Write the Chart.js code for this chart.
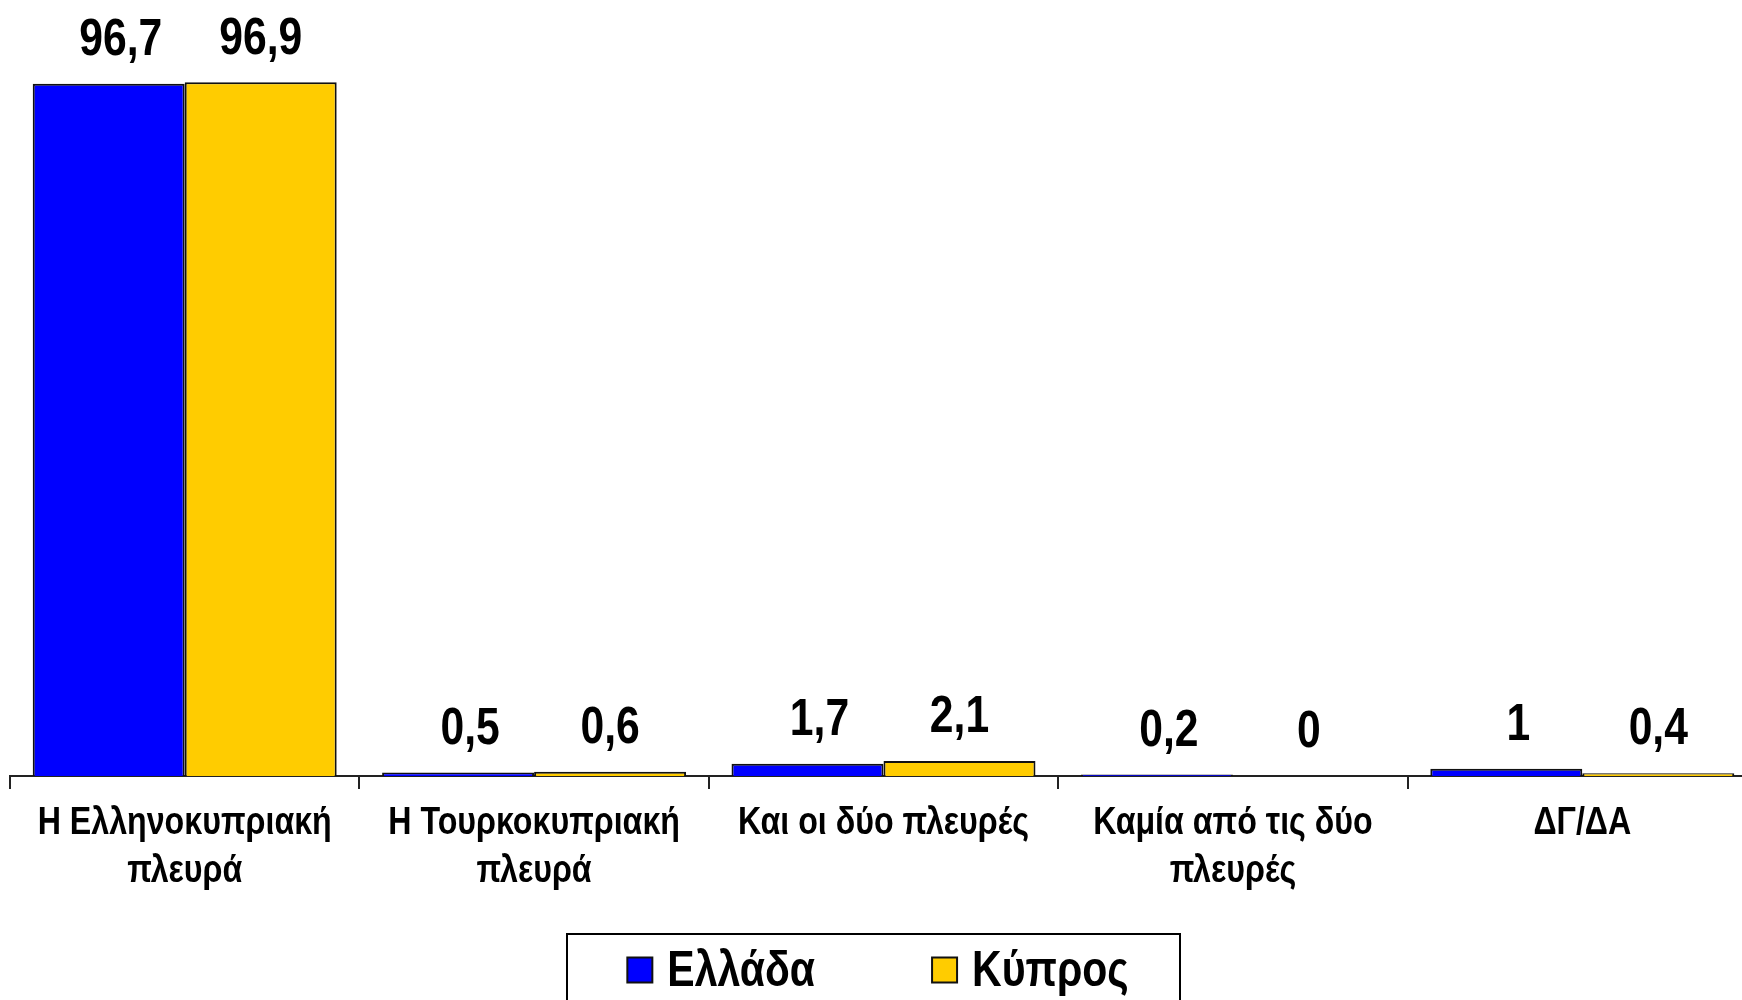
<!DOCTYPE html>
<html>
<head>
<meta charset="utf-8">
<script src="https://cdn.jsdelivr.net/npm/chart.js@4.4.0/dist/chart.umd.min.js"></script>
<style>
html,body{margin:0;padding:0;background:#fff;overflow:hidden;width:1742px;height:1000px;}
canvas{display:block;}
</style>
</head>
<body>
<canvas id="c" width="1757" height="1000"></canvas>
<script>
const categories = [
  ["Η Ελληνοκυπριακή", "πλευρά"],
  ["Η Τουρκοκυπριακή", "πλευρά"],
  ["Και οι δύο πλευρές"],
  ["Καμία από τις δύο", "πλευρές"],
  ["ΔΓ/ΔΑ"]
];
const seriesNames = ["Ελλάδα", "Κύπρος"];
const greeceValues = [96.7, 0.5, 1.7, 0.2, 1];
const cyprusValues = [96.9, 0.6, 2.1, 0, 0.4];
const seriesColors = ["#0000FF", "#FFCC00"];

const FONT = "'Liberation Sans', Arial, sans-serif";
const NARROW = 0.82;

function drawNarrow(ctx, text, x, y, f) {
  ctx.save();
  ctx.translate(x, y);
  ctx.scale(f || NARROW, 1);
  ctx.fillText(text, 0, 0);
  ctx.restore();
}
function narrowWidth(ctx, text) {
  return ctx.measureText(text).width * NARROW;
}

const valueLabels = {
  id: 'valueLabels',
  afterDatasetsDraw(chart) {
    const ctx = chart.ctx;
    ctx.save();
    ctx.fillStyle = '#000';
    ctx.font = "bold 52px " + FONT;
    ctx.textAlign = 'center';
    ctx.textBaseline = 'middle';
    chart.data.datasets.forEach((ds, di) => {
      const meta = chart.getDatasetMeta(di);
      meta.data.forEach((bar, i) => {
        const txt = String(ds.data[i]).replace('.', ',');
        const dx = di === 0 ? 12 : 0;
        drawNarrow(ctx, txt, bar.x + dx, bar.y - 43);
      });
    });
    ctx.restore();
  }
};

const xLabels = {
  id: 'xLabels',
  afterDraw(chart) {
    const ctx = chart.ctx;
    const xs = chart.scales.x;
    ctx.save();
    ctx.fillStyle = '#000';
    ctx.font = "bold 39px " + FONT;
    ctx.textAlign = 'center';
    ctx.textBaseline = 'alphabetic';
    chart.data.labels.forEach((lines, i) => {
      const x = xs.getPixelForTick(i);
      lines.forEach((ln, k) => {
        drawNarrow(ctx, ln, x, xs.top + 58 + k * 48, 0.825);
      });
    });
    ctx.restore();
  }
};

const legendDraw = {
  id: 'legendDraw',
  afterDraw(chart) {
    const ctx = chart.ctx;
    const cx = (chart.chartArea.left + 1742) / 2 - 3;
    const cy = 970;
    ctx.save();
    ctx.font = "bold 50px " + FONT;
    ctx.textBaseline = 'middle';
    ctx.textAlign = 'left';
    const sw = 25, gapT = 15, gapItems = 117;
    const widths = chart.data.datasets.map(ds => sw + gapT + narrowWidth(ctx, ds.label));
    const total = widths.reduce((a, b) => a + b, 0) + gapItems * (widths.length - 1);
    ctx.strokeStyle = '#000';
    ctx.lineWidth = 2;
    ctx.strokeRect(cx - 306, 934, 613, 100);
    let x = cx - total / 2 + 5;
    chart.data.datasets.forEach((ds, i) => {
      ctx.fillStyle = ds.backgroundColor;
      ctx.fillRect(x, cy - sw / 2, sw, sw);
      ctx.strokeStyle = '#111';
      ctx.lineWidth = 2;
      ctx.strokeRect(x, cy - sw / 2, sw, sw);
      ctx.fillStyle = '#000';
      drawNarrow(ctx, ds.label, x + sw + gapT, cy + 2);
      x += widths[i] + gapItems;
    });
    ctx.restore();
  }
};

new Chart(document.getElementById('c'), {
  type: 'bar',
  data: {
    labels: categories,
    datasets: [
      { label: seriesNames[0], data: greeceValues, backgroundColor: seriesColors[0], borderColor: '#111', borderWidth: 2, borderSkipped: 'bottom' },
      { label: seriesNames[1], data: cyprusValues, backgroundColor: seriesColors[1], borderColor: '#111', borderWidth: 2, borderSkipped: 'bottom' }
    ]
  },
  options: {
    responsive: false,
    animation: false,
    devicePixelRatio: 1,
    layout: { padding: { left: 10, right: 0, top: 60, bottom: 60 } },
    categoryPercentage: 0.87,
    barPercentage: 1.0,
    plugins: {
      legend: { display: false },
      tooltip: { enabled: false }
    },
    scales: {
      x: {
        offset: true,
        grid: { display: true, drawOnChartArea: false, drawTicks: true, tickLength: 13, color: '#222', lineWidth: 2, offset: true },
        border: { display: true, color: '#222', width: 2 },
        ticks: { display: false, autoSkip: false },
        afterFit(scale) { scale.height = 164; }
      },
      y: {
        display: false,
        min: 0,
        max: 100
      }
    }
  },
  plugins: [valueLabels, xLabels, legendDraw]
});
</script>
</body>
</html>
